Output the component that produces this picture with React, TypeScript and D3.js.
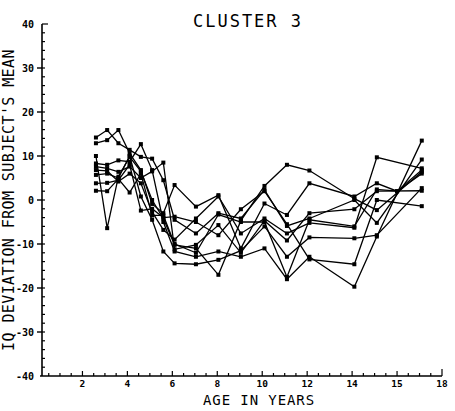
import React, { useEffect, useRef } from 'react';
import * as d3 from 'd3';

// ages at which the subjects were tested (years)
const ages = [2.6, 3.1, 3.6, 4.1, 4.6, 5.1, 5.6, 6.1, 7.05, 8.05, 9.05, 10.1, 11.1, 12.1, 14.1, 15.1, 16, 17.1];

// IQ deviation from each subject's own mean, one list per subject (null = not tested)
const subj1 = [14.2, 15.9, 12.9, 11.4, 9.8, 9.4, 4.5, -4.5, -7.6, -3, -4.2, 2.3, -5.9, -4.2, 0, -5.2, null, 9.2];
const subj2 = [12.9, 13.6, 15.9, 10.6, 6.8, -0.9, -3, 3.4, -1.5, 1.1, -11, -0.8, -3.4, 3.8, 0.8, 3.8, 2, 6.0];
const subj3 = [10, -6.4, 5.3, 9.8, 6.5, 0, -4.2, -10.2, -11, -17, -4.7, 3.2, 8, 6.7, 0.3, -2.3, null, 6.4];
const subj4 = [8.3, 8, 9, 8.7, 12.7, 6.8, -5, -11.7, -12.9, -11.7, -12.9, -11, -18, -12.9, -19.7, -8.3, null, 13.5];
const subj5 = [7.6, 7.2, 6.4, 7.6, 5, 6.5, 8.5, -11.2, -10.2, -5.7, -12, -4.7, -9.2, -3, -2.1, 2, null, 2.1];
const subj6 = [6.8, 6.6, 4.2, 6, 3.8, -2.7, -6.8, -9, -4.2, 0.8, -7.6, -4.2, -7.6, -5.2, -6.3, 9.7, null, 7.2];
const subj7 = [5.7, 6, 5, 10, 0.8, -4.5, -11.7, -14.4, -14.6, -13.6, -11.5, -6, -12.9, -8.5, -8.7, -8, null, 2.7];
const subj8 = [3.8, 3.9, 4.5, 8, -2.4, -2, -4, -3.8, -5, -8, -2.1, 2, -5.5, -13.5, -14.6, 0, null, -1.4];
const subj9 = [2.1, 2, 4.8, 1.7, 6, -3.5, -3.5, -10, -12, -3.3, -5, -5, -17.5, -4.5, -6, 2.4, 2, 6.8];

const subjects = [subj1, subj2, subj3, subj4, subj5, subj6, subj7, subj8, subj9];

const yTicks = [-40, -30, -20, -10, 0, 10, 20, 30, 40];
const xTicks = [2, 4, 6, 8, 10, 12, 14, 16, 18];
const xTickLabels = ['2', '4', '6', '8', '10', '12', '14', '15', '18'];

const W = 455, H = 411;
const font = '"DejaVu Sans Mono", "Liberation Mono", monospace';

export default function App() {
  const ref = useRef<SVGSVGElement>(null);

  useEffect(() => {
    const svg = d3.select(ref.current);
    svg.selectAll('*').remove();

    const x = d3.scaleLinear().domain([0, 18]).range([37.5, 442]);
    const y = d3.scaleLinear().domain([-40, 40]).range([376, 24]);

    const g = svg.append('g');

    // y axis
    g.append('line')
      .attr('x1', 42).attr('x2', 42)
      .attr('y1', y(40)).attr('y2', y(-40))
      .attr('stroke', '#000').attr('stroke-width', 1.6);
    g.selectAll('.ymin')
      .data(d3.range(-38, 41, 2))
      .enter().append('line')
      .attr('x1', 42).attr('x2', (d) => (d === 40 ? 48 : 45))
      .attr('y1', (d) => y(d)).attr('y2', (d) => y(d))
      .attr('stroke', '#000').attr('stroke-width', 1.2);
    g.selectAll('.ymaj')
      .data(yTicks.filter((d) => d > -40 && d < 40))
      .enter().append('line')
      .attr('x1', 37).attr('x2', 42)
      .attr('y1', (d) => y(d)).attr('y2', (d) => y(d))
      .attr('stroke', '#000').attr('stroke-width', 1.4);
    g.selectAll('.ylab')
      .data(yTicks)
      .enter().append('text')
      .attr('x', 34).attr('y', (d) => y(d) + 3.5)
      .attr('text-anchor', 'end')
      .attr('font-family', font).attr('font-size', 10).attr('font-weight', 'bold')
      .text((d) => String(d));

    // x axis
    g.append('line')
      .attr('x1', 40).attr('x2', x(18))
      .attr('y1', 376).attr('y2', 376)
      .attr('stroke', '#000').attr('stroke-width', 1.6);
    g.selectAll('.xmin')
      .data(d3.range(0.5, 18.01, 0.5))
      .enter().append('line')
      .attr('x1', (d) => x(d)).attr('x2', (d) => x(d))
      .attr('y1', 376).attr('y2', (d) => (d === 18 ? 369 : Number.isInteger(d / 2) ? 371 : 373))
      .attr('stroke', '#000').attr('stroke-width', 1.2);
    g.selectAll('.xlab')
      .data(xTicks)
      .enter().append('text')
      .attr('x', (d) => x(d)).attr('y', 387)
      .attr('text-anchor', 'middle')
      .attr('font-family', font).attr('font-size', 9.5).attr('font-weight', 'bold')
      .text((d, i) => xTickLabels[i]);

    // titles
    g.append('text')
      .attr('x', 248).attr('y', 27)
      .attr('text-anchor', 'middle')
      .attr('font-family', font).attr('font-size', 17).attr('letter-spacing', 2)
      .text('CLUSTER 3');
    g.append('text')
      .attr('x', 259).attr('y', 405)
      .attr('text-anchor', 'middle')
      .attr('font-family', font).attr('font-size', 14).attr('letter-spacing', 0.9)
      .text('AGE IN YEARS');
    g.append('text')
      .attr('transform', 'translate(14,200) rotate(-90)')
      .attr('text-anchor', 'middle')
      .attr('font-family', font).attr('font-size', 15).attr('letter-spacing', 0.4)
      .text("IQ DEVIATION FROM SUBJECT'S MEAN");

    // subject lines
    const line = d3.line<[number, number]>()
      .x((d) => x(d[0]))
      .y((d) => y(d[1]));

    subjects.forEach((vals) => {
      const pts = ages
        .map((a, i) => [a, vals[i]] as [number, number | null])
        .filter((p) => p[1] !== null) as [number, number][];
      g.append('path')
        .attr('d', line(pts))
        .attr('fill', 'none')
        .attr('stroke', '#000')
        .attr('stroke-width', 1.3);
      g.selectAll(null)
        .data(pts)
        .enter().append('rect')
        .attr('x', (d) => x(d[0]) - 2)
        .attr('y', (d) => y(d[1]) - 2)
        .attr('width', 4).attr('height', 4)
        .attr('fill', '#000');
    });
  }, []);

  return (
    <svg
      ref={ref}
      width={W}
      height={H}
      style={{ position: 'absolute', left: 0, top: 0, background: '#fff' }}
    />
  );
}
